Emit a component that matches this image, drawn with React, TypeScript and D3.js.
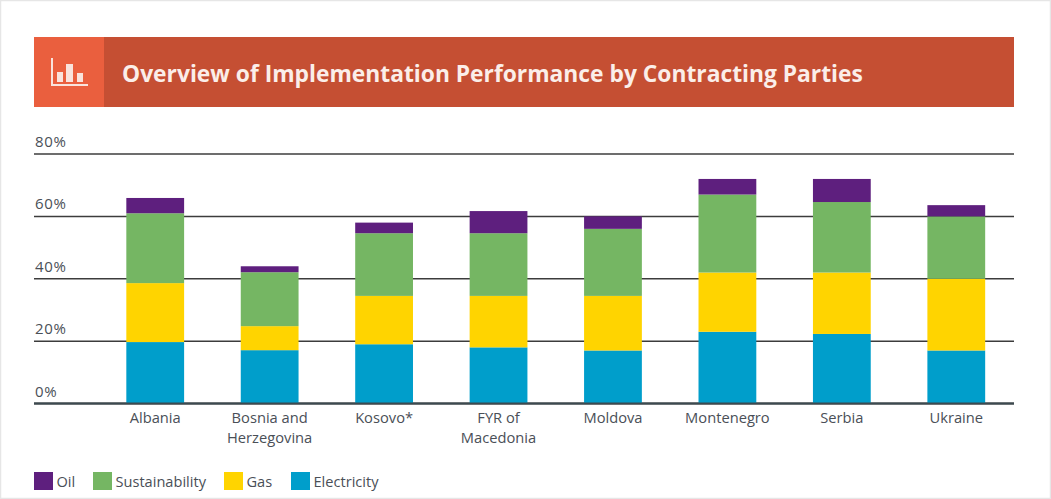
import { useEffect, useRef } from 'react'
import * as d3 from 'd3'

const width = 1051
const height = 499

const title = 'Overview of Implementation Performance by Contracting Parties'
const categories = ['Albania', 'Bosnia and|Herzegovina', 'Kosovo*', 'FYR of|Macedonia', 'Moldova', 'Montenegro', 'Serbia', 'Ukraine']
const seriesNames = ['Electricity', 'Gas', 'Sustainability', 'Oil']
const legendOrder = ['Oil', 'Sustainability', 'Gas', 'Electricity']
const yTicks = [0, 20, 40, 60, 80]

const electricity = [19.7, 17.1, 19, 18, 17, 23, 22.3, 17]
const gas = [18.9, 7.7, 15.5, 16.5, 17.5, 19, 19.7, 23]
const sustainability = [22.4, 17.3, 20.1, 20.1, 21.5, 25, 22.6, 20]
const oil = [4.9, 1.9, 3.4, 7.1, 4, 5, 7.4, 3.6]

const colors: Record<string, string> = {
  Electricity: '#009ecb',
  Gas: '#ffd400',
  Sustainability: '#75b663',
  Oil: '#5e1f7e'
}

const textColor = '#4a4f57'
const fontFamily = '"Open Sans", sans-serif'

export default function App() {
  const svgRef = useRef<SVGSVGElement>(null)

  useEffect(() => {
    if (!svgRef.current) return
    const svg = d3.select(svgRef.current)
    svg.selectAll('*').remove()

    // page frame
    svg.append('rect')
      .attr('x', 0.5).attr('y', 0.5)
      .attr('width', width - 1).attr('height', height - 1)
      .style('fill', '#fff')
      .style('stroke', '#e6e6e6')
      .style('stroke-width', '1.5px')

    // header band
    svg.append('rect')
      .attr('x', 34).attr('y', 37).attr('width', 980).attr('height', 70)
      .style('fill', '#c54f33')
    svg.append('rect')
      .attr('x', 34).attr('y', 37).attr('width', 70).attr('height', 70)
      .style('fill', '#ea5f3e')

    // header icon
    const icon = svg.append('g').attr('transform', 'translate(51, 58)')
    icon.append('path')
      .attr('d', 'M1,0V27H37')
      .style('fill', 'none')
      .style('stroke', '#f9e3dc')
      .style('stroke-width', '2px')
    const iconBars = [[6, 14, 6, 10], [15, 6, 7, 18], [26, 15, 6, 9]]
    iconBars.forEach(([bx, by, bw, bh]) => {
      icon.append('rect')
        .attr('x', bx).attr('y', by).attr('width', bw).attr('height', bh)
        .style('fill', '#f9e3dc')
    })

    svg.append('text')
      .attr('x', 122).attr('y', 82)
      .style('fill', '#fbeee9')
      .style('font-family', fontFamily)
      .style('font-size', '22.8px')
      .style('font-weight', '700')
      .text(title)

    const x = d3.scaleBand()
      .domain(categories)
      .range([98, 1013.5])
      .paddingInner(0.495)
      .paddingOuter(0.2475)

    const y = d3.scaleLinear()
      .domain([0, 80])
      .range([403.5, 154])

    // gridlines and y labels
    yTicks.forEach(tick => {
      svg.append('line')
        .attr('x1', 34).attr('x2', 1014)
        .attr('y1', y(tick)).attr('y2', y(tick))
        .style('stroke', '#3c3c3c')
        .style('stroke-width', tick === 0 ? '2px' : '1.5px')
      svg.append('text')
        .attr('x', 35).attr('y', y(tick) - 7)
        .style('fill', textColor)
        .style('font-family', fontFamily)
        .style('font-size', '15px')
        .style('letter-spacing', '0.7px')
        .text(`${tick}%`)
    })

    // stacked bars
    const rows = categories.map((category, i) => ({
      category,
      Electricity: electricity[i],
      Gas: gas[i],
      Sustainability: sustainability[i],
      Oil: oil[i]
    }))
    const stack = d3.stack<any>().keys(seriesNames)(rows)
    stack.forEach(layer => {
      svg.append('g')
        .selectAll('rect')
        .data(layer)
        .join('rect')
        .attr('x', d => x(d.data.category) as number)
        .attr('width', x.bandwidth())
        .attr('y', d => y(d[1]))
        .attr('height', d => y(d[0]) - y(d[1]))
        .style('fill', colors[layer.key])
    })

    // baseline sits over the bars
    svg.append('line')
      .attr('x1', 34).attr('x2', 1014)
      .attr('y1', y(0)).attr('y2', y(0))
      .style('stroke', '#3c4a50')
      .style('stroke-width', '2px')

    // category labels
    categories.forEach(category => {
      const cx = (x(category) as number) + x.bandwidth() / 2
      category.split('|').forEach((line, i) => {
        svg.append('text')
          .attr('x', cx).attr('y', 423 + i * 19.5)
          .attr('text-anchor', 'middle')
          .style('fill', textColor)
          .style('font-family', fontFamily)
          .style('font-size', '14.7px')
          .text(line)
      })
    })

    // legend
    const swatchX = d3.scaleOrdinal<string, number>()
      .domain(legendOrder)
      .range([34, 93, 224, 291])
    legendOrder.forEach(name => {
      const lx = swatchX(name)
      svg.append('rect')
        .attr('x', lx).attr('y', 472).attr('width', 19).attr('height', 18)
        .style('fill', colors[name])
      svg.append('text')
        .attr('x', lx + 22.5).attr('y', 487)
        .style('fill', textColor)
        .style('font-family', fontFamily)
        .style('font-size', '14.6px')
        .text(name)
    })
  }, [])

  return (
    <svg
      ref={svgRef}
      width={width}
      height={height}
      style={{ position: 'absolute', left: 0, top: 0 }}
    />
  )
}
